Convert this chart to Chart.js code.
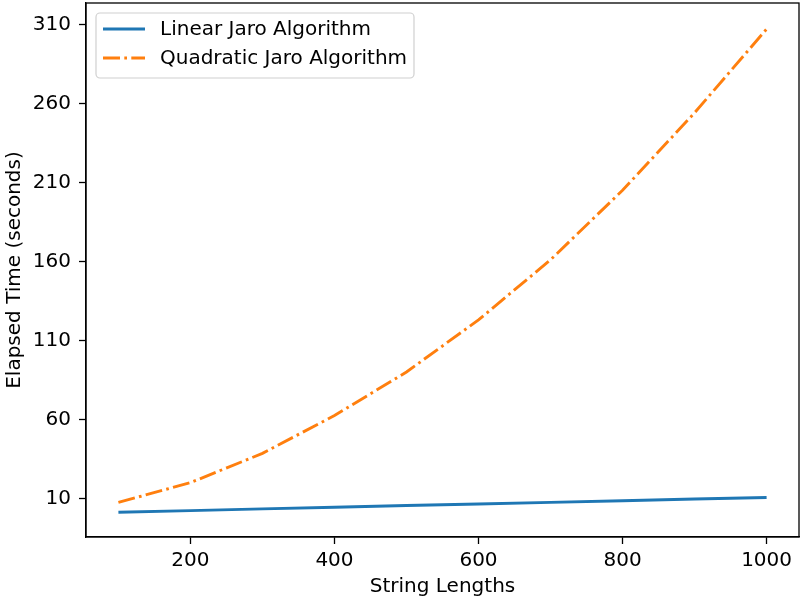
<!DOCTYPE html>
<html>
<head>
<meta charset="utf-8">
<script src="https://cdn.jsdelivr.net/npm/chart.js@4.4.0/dist/chart.umd.min.js"></script>
<style>
  body { margin: 0; background: #fff; }
  canvas { display: block; }
</style>
</head>
<body>
<canvas id="chart" width="800" height="599"></canvas>
<script>
// string lengths tested
const lengths = [100, 200, 300, 400, 500, 600, 700, 800, 900, 1000];
// elapsed times (seconds)
const linearTimes = [1.3, 2.3, 3.4, 4.4, 5.5, 6.5, 7.5, 8.5, 9.6, 10.6];
const quadraticTimes = [7.5, 20, 38.5, 62.5, 90, 123, 161, 205, 254, 307];
// tick labels
const xTicks = [200, 400, 600, 800, 1000];
const yTicks = [10, 60, 110, 160, 210, 260, 310];

const seriesNames = ["Linear Jaro Algorithm", "Quadratic Jaro Algorithm"];
const blue = "#1f77b4";
const orange = "#ff7f0e";
const lw = 2.9;
const dashDot = [17, 4.3, 2.7, 4.3];
const fontFamily = "'DejaVu Sans', sans-serif";
const fontSize = 20;

// draws the box round the axes and a matplotlib style legend
const framePlugin = {
    id: "frame",
    afterDraw(chart) {
        const ctx = chart.ctx;
        const a = chart.chartArea;
        ctx.save();
        ctx.strokeStyle = "#000";
        ctx.lineWidth = 1.3;
        ctx.strokeRect(a.left, a.top, a.right - a.left, a.bottom - a.top);

        // legend box
        const bx = 96, by = 13, bw = 318, bh = 65, r = 4;
        ctx.beginPath();
        ctx.roundRect(bx, by, bw, bh, r);
        ctx.fillStyle = "rgba(255,255,255,0.8)";
        ctx.fill();
        ctx.strokeStyle = "#d0d0d0";
        ctx.lineWidth = 1.2;
        ctx.stroke();

        const rows = [
            { label: seriesNames[0], color: blue, dash: [], y: 29 },
            { label: seriesNames[1], color: orange, dash: dashDot, y: 58 }
        ];
        ctx.font = fontSize + "px " + fontFamily;
        ctx.textBaseline = "middle";
        rows.forEach(row => {
            ctx.beginPath();
            ctx.setLineDash(row.dash);
            ctx.strokeStyle = row.color;
            ctx.lineWidth = lw;
            ctx.moveTo(103, row.y);
            ctx.lineTo(145, row.y);
            ctx.stroke();
            ctx.setLineDash([]);
            ctx.fillStyle = "#000";
            ctx.fillText(row.label, 160, row.y + 1);
        });
        ctx.restore();
    }
};

const ctx = document.getElementById("chart").getContext("2d");
new Chart(ctx, {
    type: "line",
    data: {
        datasets: [{
            label: seriesNames[0],
            data: lengths.map((x, i) => ({ x: x, y: linearTimes[i] })),
            borderColor: blue,
            borderWidth: lw,
            pointRadius: 0,
            tension: 0
        }, {
            label: seriesNames[1],
            data: lengths.map((x, i) => ({ x: x, y: quadraticTimes[i] })),
            borderColor: orange,
            borderWidth: lw,
            borderDash: dashDot,
            pointRadius: 0,
            tension: 0
        }]
    },
    options: {
        responsive: false,
        animation: false,
        layout: { padding: { top: 3, right: 1, left: 0, bottom: 0 } },
        plugins: {
            legend: { display: false },
            tooltip: { enabled: false }
        },
        scales: {
            x: {
                type: "linear",
                min: 55,
                max: 1045,
                afterBuildTicks: s => { s.ticks = xTicks.map(v => ({ value: v })); },
                afterFit: s => { s.height = 62; s.paddingLeft = 0; s.paddingRight = 0; },
                grid: { drawOnChartArea: false, drawTicks: true, tickLength: 7, tickColor: "#000", tickWidth: 1.3 },
                border: { display: true, color: "#000", width: 1.3 },
                ticks: { color: "#000", padding: 5, maxRotation: 0, callback: v => String(v), font: { family: fontFamily, size: fontSize } },
                title: {
                    display: true,
                    text: "String Lengths",
                    color: "#000",
                    padding: { top: 0, bottom: 0 },
                    font: { family: fontFamily, size: fontSize }
                }
            },
            y: {
                min: -14.4,
                max: 323.5,
                afterBuildTicks: s => { s.ticks = yTicks.map(v => ({ value: v })); },
                afterFit: s => { s.width = 86; s.paddingTop = 0; s.paddingBottom = 0; },
                grid: { drawOnChartArea: false, drawTicks: true, tickLength: 7, tickColor: "#000", tickWidth: 1.3 },
                border: { display: true, color: "#000", width: 1.3 },
                ticks: { color: "#000", padding: 8, callback: v => String(v), font: { family: fontFamily, size: fontSize } },
                title: {
                    display: true,
                    text: "Elapsed Time (seconds)",
                    color: "#000",
                    padding: { top: 3, bottom: 0 },
                    font: { family: fontFamily, size: fontSize }
                }
            }
        }
    },
    plugins: [framePlugin]
});
</script>
</body>
</html>
